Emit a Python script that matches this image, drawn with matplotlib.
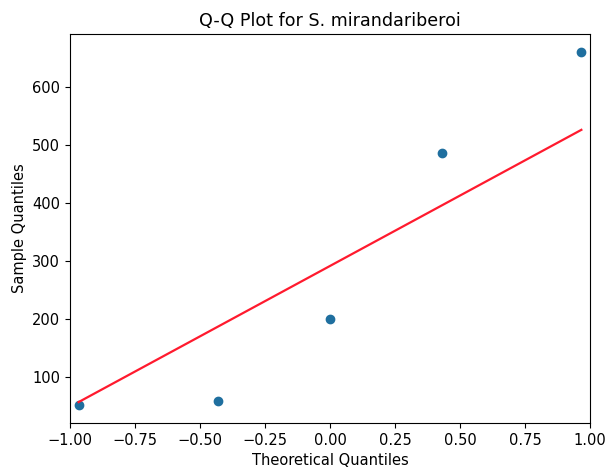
import numpy as np
import matplotlib
matplotlib.use("Agg")
import matplotlib.pyplot as plt

theoretical = [-0.967, -0.431, 0.0, 0.431, 0.967]
sample = [52, 60, 200, 486, 660]

title = "Q-Q Plot for S. mirandariberoi"

plt.rcParams['font.size'] = 10.5

x = np.array(theoretical)
y = np.array(sample, dtype=float)
slope, intercept = np.std(y), np.mean(y)

fig = plt.figure(figsize=(6.06, 4.74), dpi=100)
ax = fig.add_axes([0.1155, 0.1076, 0.858, 0.8206])
ax.plot(x, y, 'o', color='#1f6f9f', markersize=6, zorder=2)
xs = np.array([x.min(), x.max()])
ax.plot(xs, intercept + slope * xs, '-', color='#ff1a2e', linewidth=1.6, zorder=3)
ax.set_xlim(-1.0, 1.0)
ax.set_ylim(y.min() - 0.05 * (y.max() - y.min()), y.max() + 0.05 * (y.max() - y.min()))
ax.set_xticks([-1.0, -0.75, -0.5, -0.25, 0.0, 0.25, 0.5, 0.75, 1.0])
ax.set_yticks([100, 200, 300, 400, 500, 600])
ax.set_xlabel("Theoretical Quantiles", fontsize=10.5)
ax.set_ylabel("Sample Quantiles", fontsize=10.5)
ax.set_title(title, fontsize=12.6)
fig.savefig("out.png", dpi=100)
